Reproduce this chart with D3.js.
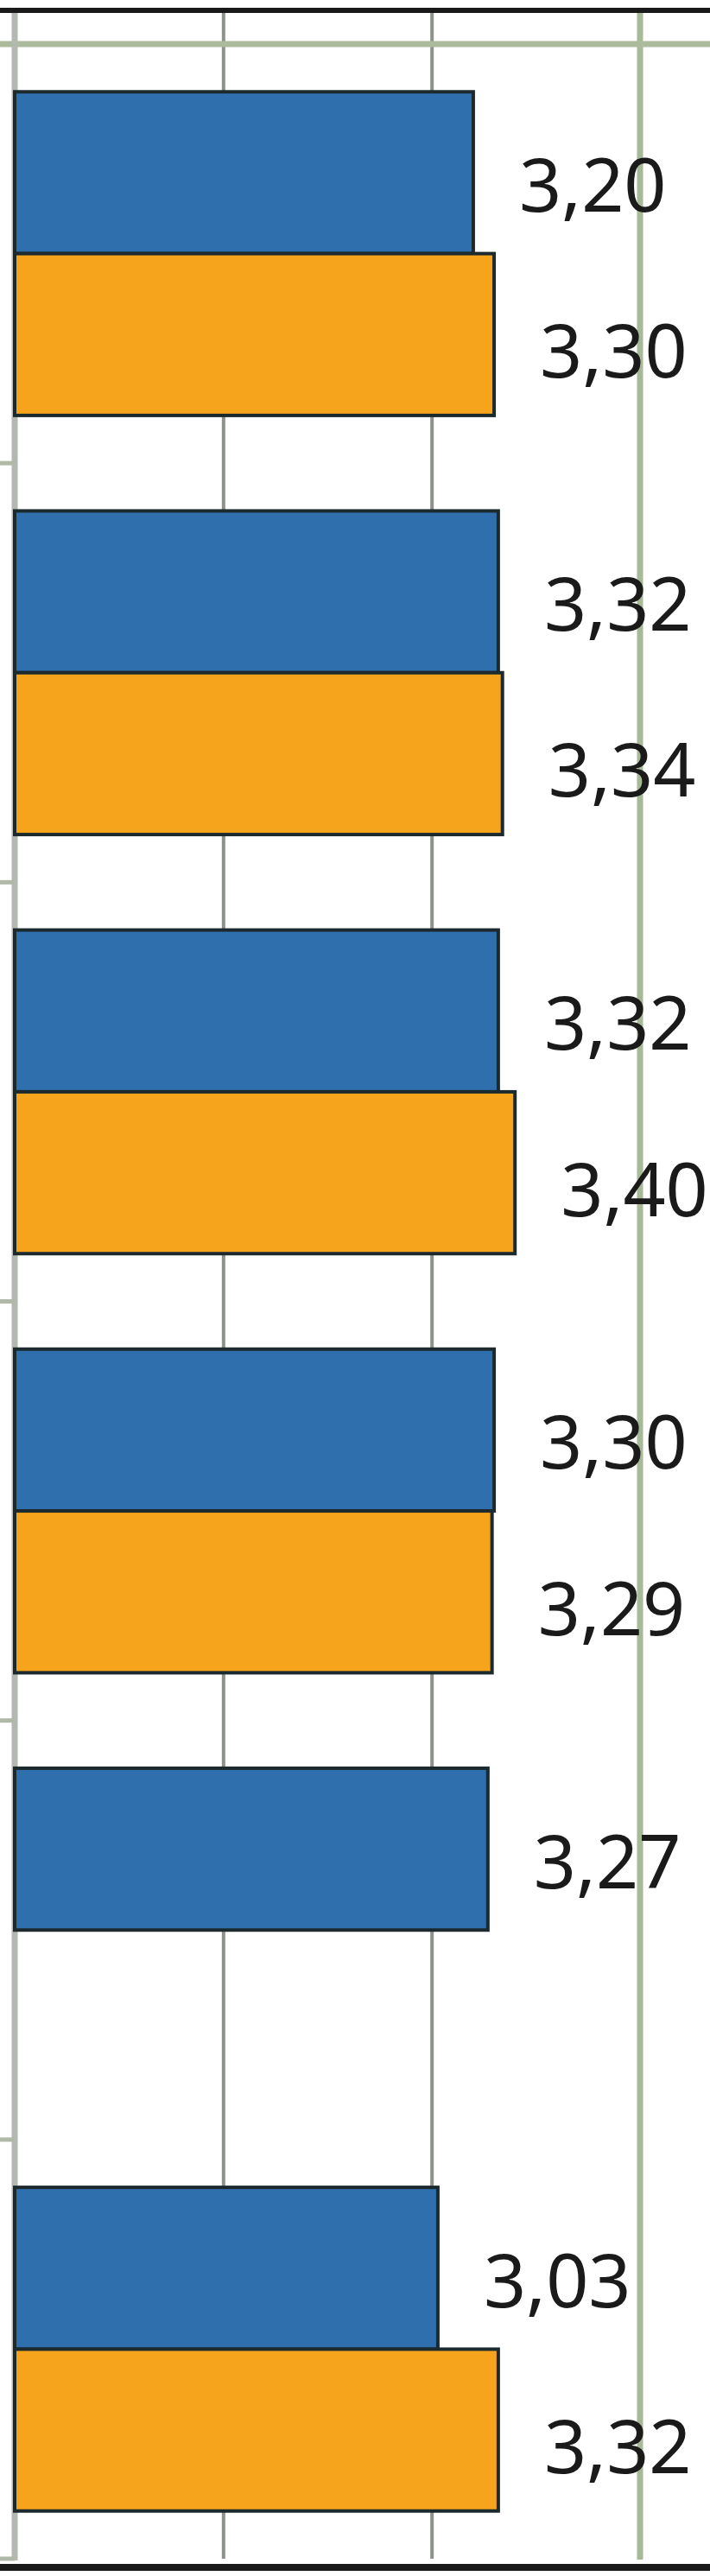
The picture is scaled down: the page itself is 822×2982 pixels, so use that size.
<!DOCTYPE html>
<html>
<head>
<meta charset="utf-8">
<script src="https://cdn.jsdelivr.net/npm/d3@7"></script>
<style>
  body { margin: 0; background: #fff; }
  svg { display: block; }
</style>
</head>
<body>
<div id="drawing_region"></div>
<script>
// values (category names are cut off in the source)
const categories = ["K1", "K2", "K3", "K4", "K5", "K6"];
const series = ["blau", "orange"];
const blueValues = [3.20, 3.32, 3.32, 3.30, 3.27, 3.03];
const orangeValues = [3.30, 3.34, 3.40, 3.29, null, 3.32];
const gridValues = [2, 3];
const borderValue = 4;

const colors = { blau: "#2f6fae", orange: "#f5a41b" };

const config = {
    width: 822,
    height: 2982,
    margin: { top: 51, right: 81, bottom: 20, left: 17 }
};

const data = [];
categories.forEach((c, i) => {
    data.push({ cat: c, s: "blau", value: blueValues[i] });
    data.push({ cat: c, s: "orange", value: orangeValues[i] });
});

const svg = d3.select("#drawing_region")
    .append("svg")
    .attr("width", config.width)
    .attr("height", config.height);

const plotBottom = 2962;

// value axis starts at 1, 4 is the right edge of the plot area
const xscale = d3.scaleLinear()
    .domain([1, 4])
    .range([config.margin.left, 741]);

const yscale = d3.scaleBand()
    .domain(categories)
    .range([config.margin.top, plotBottom])
    .paddingInner(0);

const yinner = d3.scaleBand()
    .domain(series)
    .range([0, yscale.bandwidth()])
    .paddingOuter(0.295)
    .paddingInner(0);

// grid lines
svg.append("g")
    .attr("transform", `translate(0, ${plotBottom})`)
    .call(d3.axisBottom(xscale).tickValues(gridValues).tickSize(-(plotBottom - 15)).tickFormat(""))
    .call(g => g.select(".domain").remove())
    .call(g => g.selectAll(".tick line").attr("stroke", "#8d928b").attr("stroke-width", 4));

// plot area right edge (greenish)
svg.append("line")
    .attr("x1", xscale(borderValue)).attr("x2", xscale(borderValue))
    .attr("y1", 15).attr("y2", plotBottom + 1)
    .attr("stroke", "#a8b998").attr("stroke-width", 7);

// top edge line
svg.append("line")
    .attr("x1", 0).attr("x2", config.width)
    .attr("y1", config.margin.top).attr("y2", config.margin.top)
    .attr("stroke", "#abbb9c").attr("stroke-width", 7);

// category axis line
svg.append("line")
    .attr("x1", xscale(1)).attr("x2", xscale(1))
    .attr("y1", 15).attr("y2", plotBottom + 2)
    .attr("stroke", "#b3b8b0").attr("stroke-width", 7);

// category ticks at band boundaries
svg.append("g")
    .selectAll("line")
    .data(categories)
    .join("line")
    .attr("x1", 0).attr("x2", xscale(1))
    .attr("y1", d => yscale(d) + yscale.step())
    .attr("y2", d => yscale(d) + yscale.step())
    .attr("stroke", "#b0b8a8").attr("stroke-width", 5);

// bars
const bars = data.filter(d => d.value !== null);

svg.append("g")
    .selectAll("rect")
    .data(bars)
    .join("rect")
    .attr("x", xscale(1))
    .attr("y", d => yscale(d.cat) + yinner(d.s))
    .attr("width", d => xscale(d.value) - xscale(1))
    .attr("height", yinner.bandwidth())
    .attr("fill", d => colors[d.s])
    .attr("stroke", "#1c2a2e")
    .attr("stroke-width", 4);

// value labels
const fmt = d3.formatLocale({ decimal: ",", thousands: ".", grouping: [3], currency: ["", "€"] }).format(".2f");

svg.append("g")
    .selectAll("text")
    .data(bars)
    .join("text")
    .attr("x", d => xscale(d.value) + 53)
    .attr("y", d => yscale(d.cat) + yinner(d.s) + yinner.bandwidth() / 2 + (d.s === "blau" ? 45 : 50))
    .attr("font-family", "'Noto Sans', 'Open Sans', sans-serif")
    .attr("font-size", 86)
    .attr("fill", "#1a1a1a")
    .text(d => fmt(d.value));

// black crop lines top and bottom
svg.append("rect")
    .attr("x", 0).attr("y", 9)
    .attr("width", config.width).attr("height", 6)
    .attr("fill", "#1a1a1a");

svg.append("rect")
    .attr("x", 0).attr("y", 2968)
    .attr("width", config.width).attr("height", 8)
    .attr("fill", "#1a1a1a");
</script>
</body>
</html>
